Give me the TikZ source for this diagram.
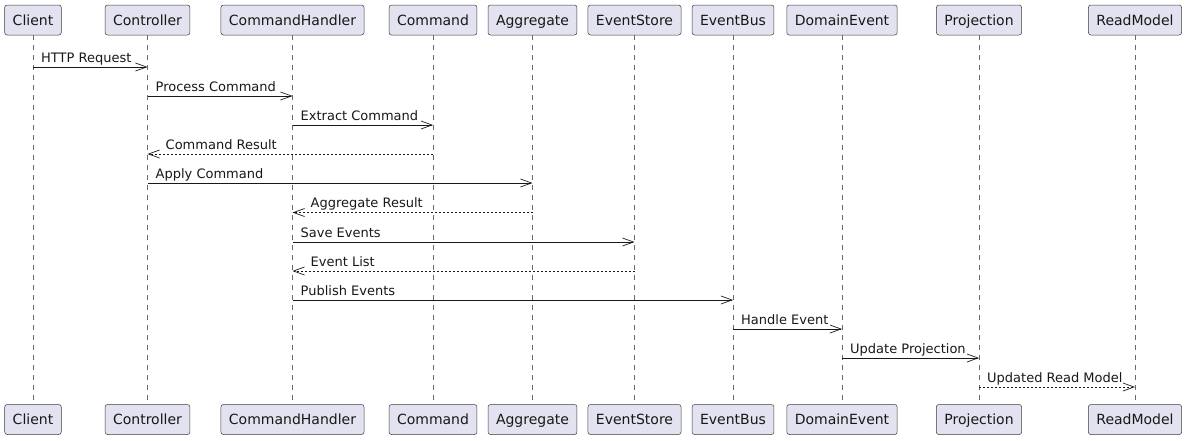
\documentclass[tikz,border=0pt]{standalone}
\usepackage{fontspec}
\setmainfont{DejaVu Sans}
\usetikzlibrary{arrows.meta}
\definecolor{boxfill}{HTML}{E2E2F0}
\definecolor{ink}{HTML}{181818}
\begin{document}
\begin{tikzpicture}[x=1pt,y=-1pt,
  actor/.style={draw=ink!85,fill=boxfill,line width=0.5pt,rounded corners=2.5pt,
    minimum height=30pt,inner xsep=8pt,inner ysep=0pt,text height=10.5pt,text depth=0pt,
    font=\fontsize{14}{16}\selectfont,text=ink},
  life/.style={draw=ink!65,line width=0.5pt,dash pattern=on 5pt off 5pt},
  msg/.style={draw=ink,line width=0.7pt,-{Straight Barb[length=11pt,width=8pt,line width=0.7pt]}},
  ret/.style={msg,dash pattern=on 2pt off 2pt},
  lbl/.style={font=\fontsize{13}{15}\selectfont,inner sep=0pt,anchor=base west,text=ink}]
\useasboundingbox (0,0) rectangle (1187,440);
\foreach \n/\t/\x in {cl/Client/33,co/Controller/147.5,ch/CommandHandler/292.5,cm/Command/433,ag/Aggregate/532.5,es/EventStore/634.5,eb/EventBus/733,de/DomainEvent/842,pr/Projection/979,rm/ReadModel/1135}{
  \node[actor] (\n T) at (\x,20) {\t};
  \node[actor] (\n B) at (\x,419.5) {\t};
  \draw[life] (\n T.south) -- (\n B.north);
}
% messages: from, to, y, name, style
\newcommand\sndmsg[5]{%
  \coordinate (a#4) at (#1T.south |- 0,#3);
  \coordinate (b#4) at (#2T.south |- 0,#3);
  \draw[#5] (a#4) -- (b#4);
}
\sndmsg{cl}{co}{67}{m1}{msg}
\node[lbl] at ([xshift=8pt,yshift=5pt]am1) {HTTP Request};
\sndmsg{co}{ch}{96}{m2}{msg}
\node[lbl] at ([xshift=8pt,yshift=5pt]am2) {Process Command};
\sndmsg{ch}{cm}{125}{m3}{msg}
\node[lbl] at ([xshift=8pt,yshift=5pt]am3) {Extract Command};
\sndmsg{cm}{co}{154}{m4}{ret}
\node[lbl] at ([xshift=18pt,yshift=5pt]bm4) {Command Result};
\sndmsg{co}{ag}{183}{m5}{msg}
\node[lbl] at ([xshift=8pt,yshift=5pt]am5) {Apply Command};
\sndmsg{ag}{ch}{212.5}{m6}{ret}
\node[lbl] at ([xshift=18pt,yshift=5pt]bm6) {Aggregate Result};
\sndmsg{ch}{es}{242}{m7}{msg}
\node[lbl] at ([xshift=8pt,yshift=5pt]am7) {Save Events};
\sndmsg{es}{ch}{271}{m8}{ret}
\node[lbl] at ([xshift=18pt,yshift=5pt]bm8) {Event List};
\sndmsg{ch}{eb}{300}{m9}{msg}
\node[lbl] at ([xshift=8pt,yshift=5pt]am9) {Publish Events};
\sndmsg{eb}{de}{329}{m10}{msg}
\node[lbl] at ([xshift=8pt,yshift=5pt]am10) {Handle Event};
\sndmsg{de}{pr}{358}{m11}{msg}
\node[lbl] at ([xshift=8pt,yshift=5pt]am11) {Update Projection};
\sndmsg{pr}{rm}{387}{m12}{ret}
\node[lbl] at ([xshift=8pt,yshift=5pt]am12) {Updated Read Model};
\end{tikzpicture}
\end{document}
